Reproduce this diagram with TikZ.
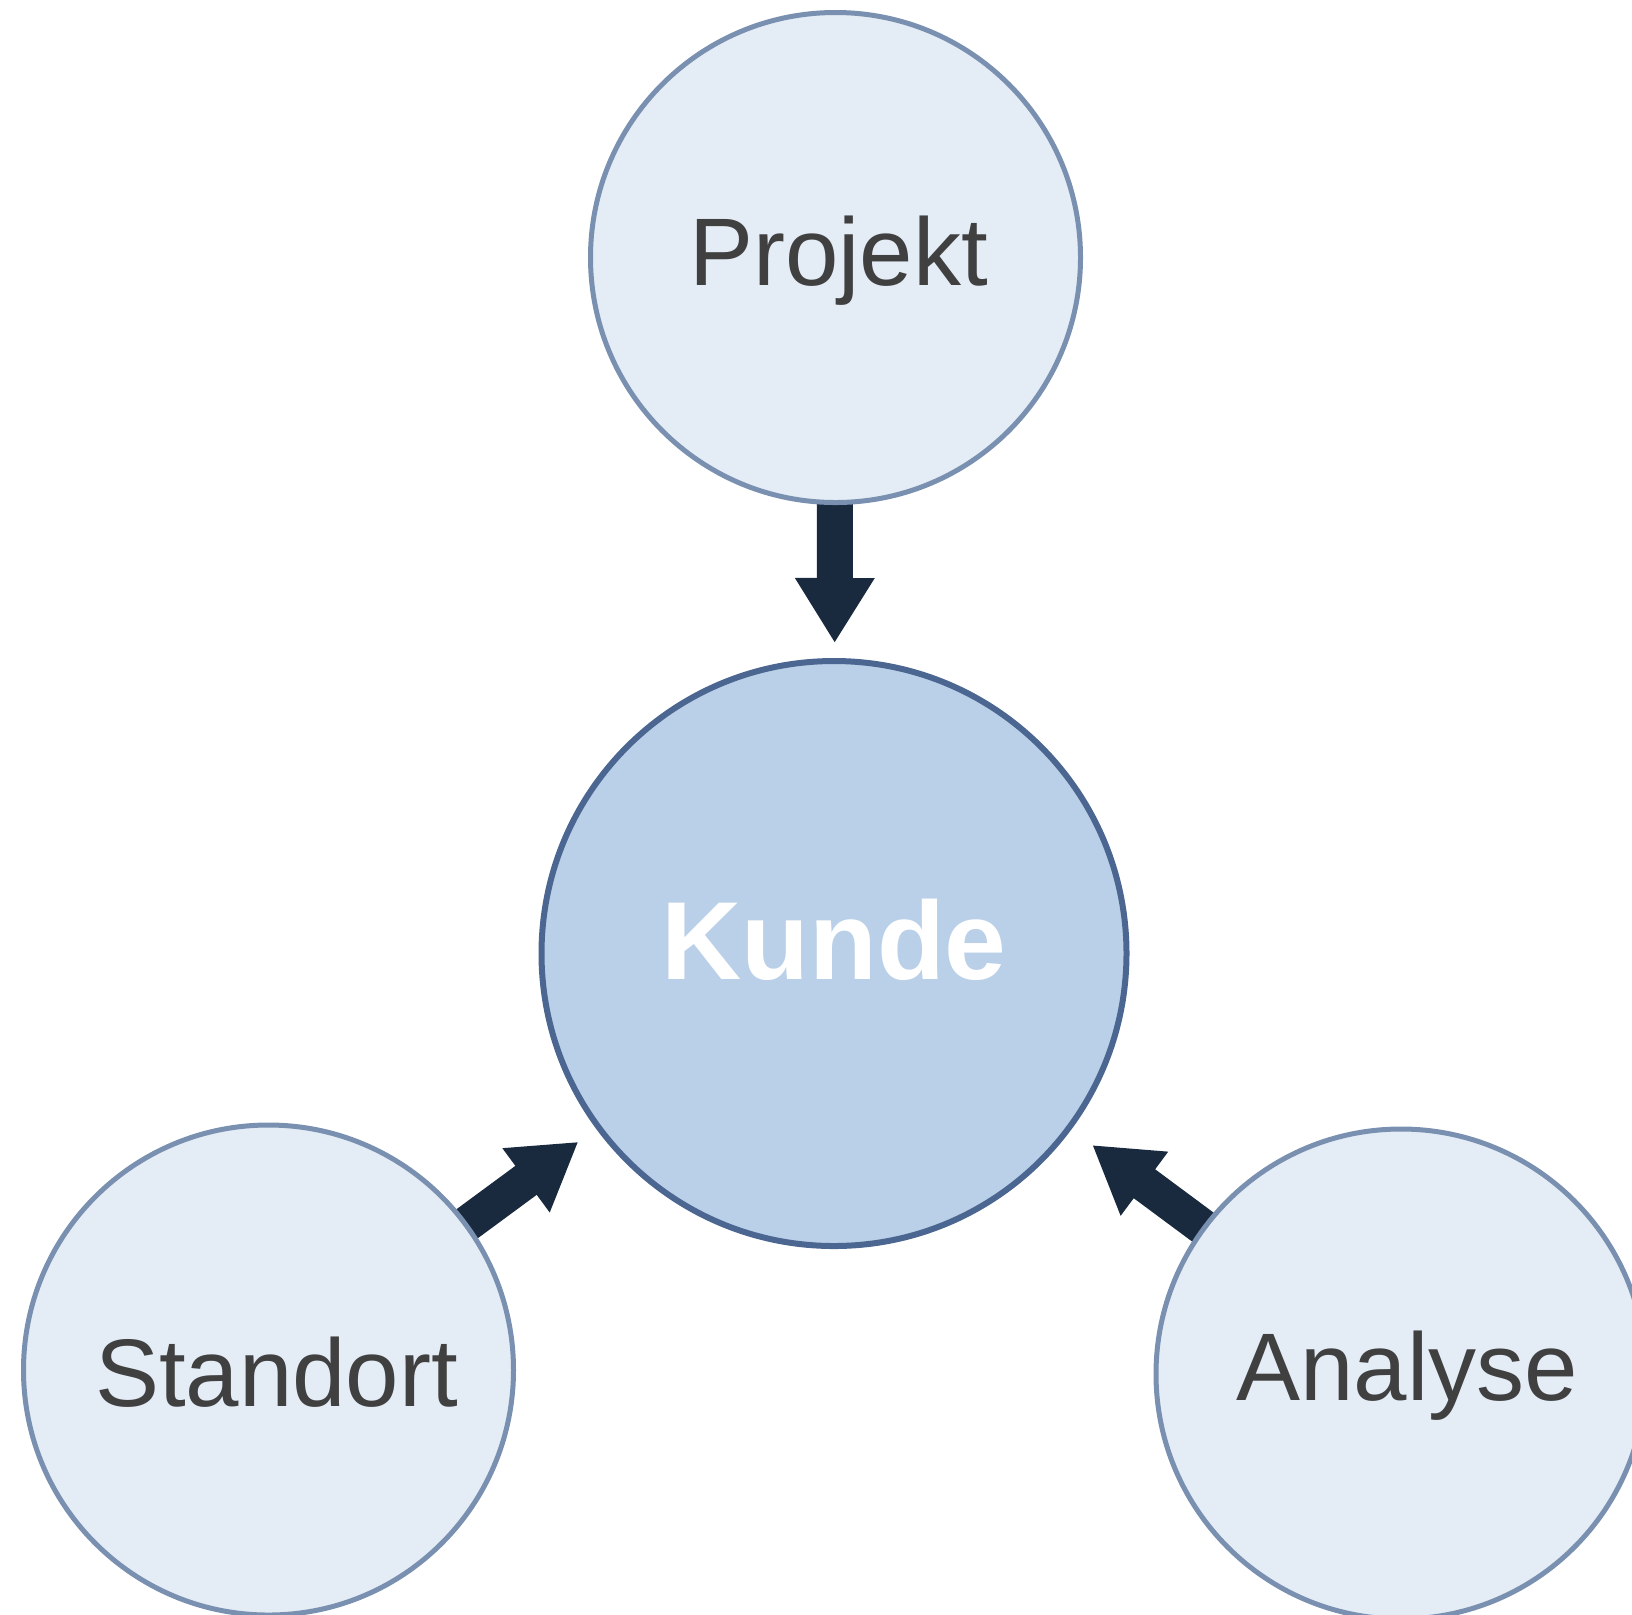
\documentclass[tikz,border=0pt]{standalone}
\usepackage{fontspec}
\setmainfont{Liberation Sans}
\usetikzlibrary{arrows.meta}
\pgfdeclarelayer{bg}
\pgfsetlayers{bg,main}
\definecolor{outerfill}{HTML}{E4ECF6}
\definecolor{outerline}{HTML}{7990B0}
\definecolor{corefill}{HTML}{BAD0E8}
\definecolor{coreline}{HTML}{4B6690}
\definecolor{arrowcol}{HTML}{1A2A3E}
\definecolor{textcol}{HTML}{404040}
\tikzset{
  outer/.style={circle, draw=outerline, fill=outerfill, line width=2.5pt,
    minimum size=245pt, inner sep=0pt, text=textcol,
    font=\fontsize{48pt}{50pt}\selectfont, text depth=0pt},
  core/.style={circle, draw=coreline, fill=corefill, line width=3pt,
    minimum size=292.5pt, inner sep=0pt, text=white,
    font=\bfseries\fontsize{55.5pt}{58pt}\selectfont, text depth=0pt, text height=26pt},
  fatarrow/.style={draw=arrowcol, line width=18pt,
    -{Triangle[length=32.5pt,width=37.5pt]}, arrowcol}
}
\begin{document}
\begin{tikzpicture}[x=0.5pt,y=-0.5pt]
\useasboundingbox (0,0) rectangle (1632,1614);
\node[core] (K) at (834,953.5) {Kunde};
\node[outer, text height=27.5pt] (P) at (835.5,257.5) {\hspace*{3pt}Projekt};
\node[outer, text height=36pt] (S) at (268.5,1370) {\hspace*{8pt}Standort};
\node[outer, text height=26pt] (A) at (1401,1374) {\hspace*{6pt}Analyse};
\begin{pgfonlayer}{bg}
\draw[fatarrow, shorten <=-6pt, shorten >=7.5pt] (P) -- (K);
\draw[fatarrow, shorten <=-6pt, shorten >=11pt] (S) -- (K);
\draw[fatarrow, shorten <=-6pt, shorten >=13pt] (A) -- (K);
\end{pgfonlayer}
\end{tikzpicture}
\end{document}
